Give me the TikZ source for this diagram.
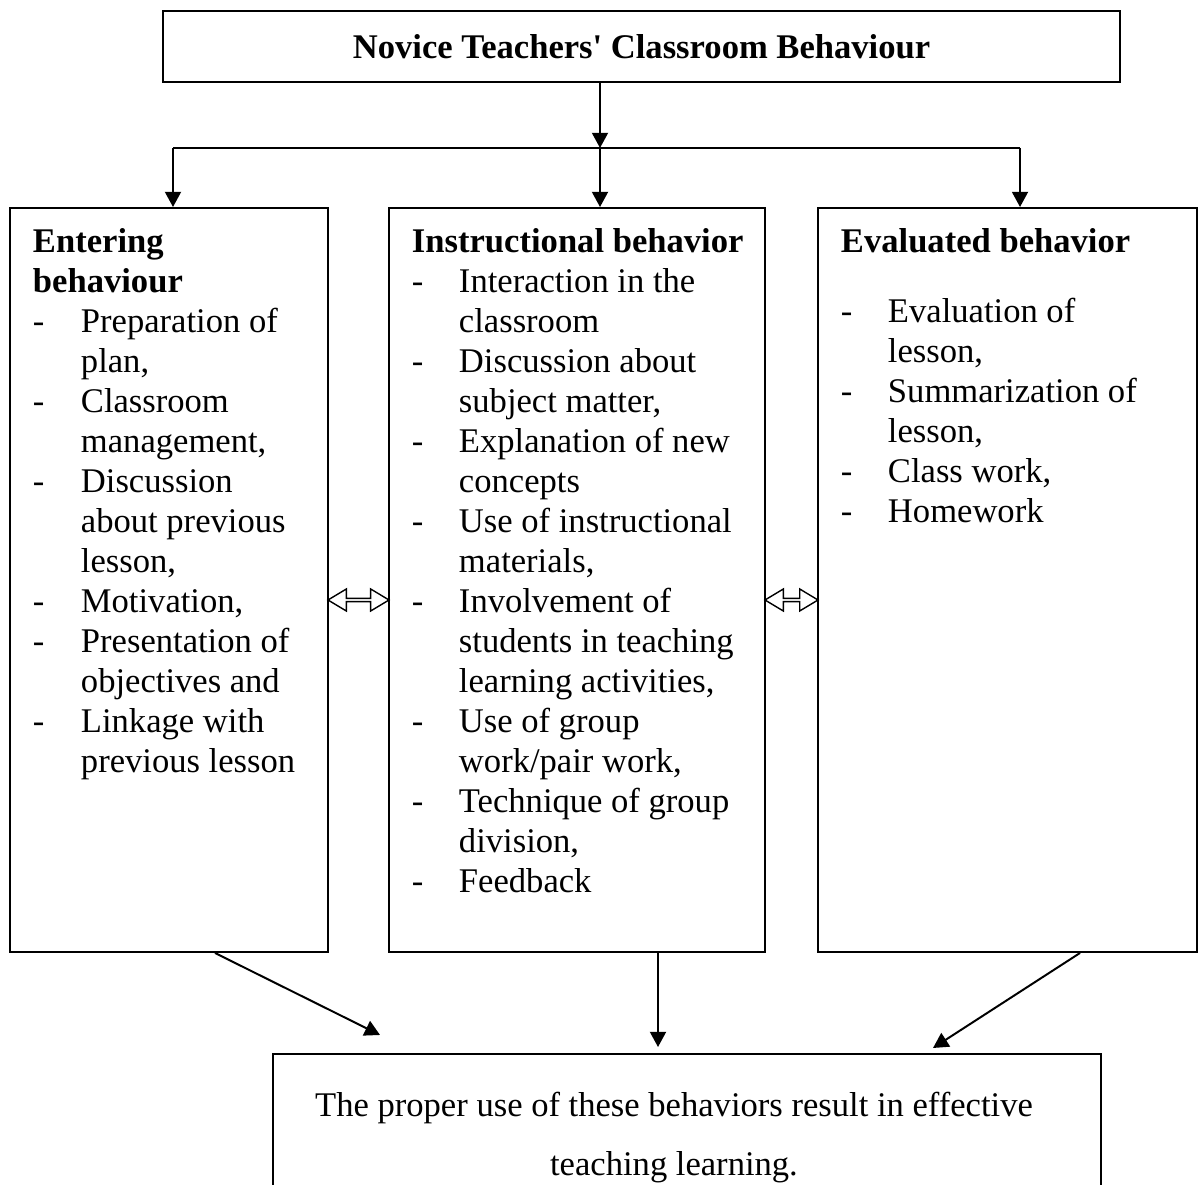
\documentclass[tikz,border=0pt]{standalone}
\usepackage{fontspec}
\setmainfont{Liberation Serif}
\usetikzlibrary{arrows.meta,shapes.arrows}

\begin{document}
\begin{tikzpicture}[>={Triangle[length=3.8mm,width=4mm]},line width=1.4pt,
  font=\fontsize{24.6pt}{1cm}\selectfont,
  box/.style={draw,rectangle,inner sep=0pt},
  txt/.style={anchor=base west,inner sep=0pt},
  twoway/.style={draw,double arrow,line width=1pt,minimum width=5.5mm,
    double arrow head extend=1mm,double arrow tip angle=62,inner sep=0pt}]
\useasboundingbox (0,0) rectangle (30,29.625);
% boxes
\node[box,minimum width=23.925cm,minimum height=1.775cm] (head) at (16.0375,28.4625) {\textbf{Novice Teachers\textquotesingle\ Classroom Behaviour}};
\node[box,minimum width=7.95cm,minimum height=18.6cm] (ent) at (4.225,15.125) {};
\node[box,minimum width=9.4cm,minimum height=18.6cm] (ins) at (14.425,15.125) {};
\node[box,minimum width=9.475cm,minimum height=18.6cm] (eva) at (25.1875,15.125) {};
\node[box,anchor=north,minimum width=20.7cm,minimum height=4cm] (res) at (17.175,3.3) {};
% texts
\node[txt] (enttxt) at (0.8,23.3) {\begin{tabular}[t]{@{}p{1.2cm}@{}l@{}}
\multicolumn{2}{@{}l@{}}{\textbf{Entering}}\\
\multicolumn{2}{@{}l@{}}{\textbf{behaviour}}\\
- & Preparation of\\
  & plan,\\
- & Classroom\\
  & management,\\
- & Discussion\\
  & about previous\\
  & lesson,\\
- & Motivation,\\
- & Presentation of\\
  & objectives and\\
- & Linkage with\\
  & previous lesson
\end{tabular}};
\node[txt] (instxt) at (10.275,23.3) {\begin{tabular}[t]{@{}p{1.175cm}@{}l@{}}
\multicolumn{2}{@{}l@{}}{\textbf{Instructional behavior}}\\
- & Interaction in the\\
  & classroom\\
- & Discussion about\\
  & subject matter,\\
- & Explanation of new\\
  & concepts\\
- & Use of instructional\\
  & materials,\\
- & Involvement of\\
  & students in teaching\\
  & learning activities,\\
- & Use of group\\
  & work/pair work,\\
- & Technique of group\\
  & division,\\
- & Feedback
\end{tabular}};
\node[txt] (evatxt) at (21,23.3) {\begin{tabular}[t]{@{}p{1.175cm}@{}l@{}}
\multicolumn{2}{@{}l@{}}{\textbf{Evaluated behavior}}\\[0.75cm]
- & Evaluation of\\
  & lesson,\\
- & Summarization of\\
  & lesson,\\
- & Class work,\\
- & Homework
\end{tabular}};
\node[align=center,inner sep=0pt,font=\fontsize{24.6pt}{1.475cm}\selectfont] (restxt) at (16.85,1.1875) {The proper use of these behaviors result in effective\\teaching learning.};
% connectors
\coordinate (busL) at (4.325,25.925);
\coordinate (busM) at (15,25.925);
\coordinate (busR) at (25.5,25.925);
\draw[->] (busM |- head.south) -- (busM);
\draw (busL) -- (busR);
\draw[->] (busL) -- (busL |- ent.north);
\draw[->] (busM) -- (busM |- ins.north);
\draw[->] (busR) -- (busR |- eva.north);
\node[twoway,minimum height=1.525cm] (ei) at (8.9625,14.625) {};
\node[twoway,minimum height=1.325cm] (ie) at (19.7875,14.625) {};
\coordinate (endL) at (9.5,3.75);
\coordinate (endM) at (16.45,3.45);
\coordinate (endR) at (23.325,3.425);
\draw[->] ([xshift=1.15cm]ent.south) -- (endL);
\draw[->] ([xshift=2.025cm]ins.south) -- (endM);
\draw[->] ([xshift=1.8125cm]eva.south) -- (endR);
\end{tikzpicture}
\end{document}
